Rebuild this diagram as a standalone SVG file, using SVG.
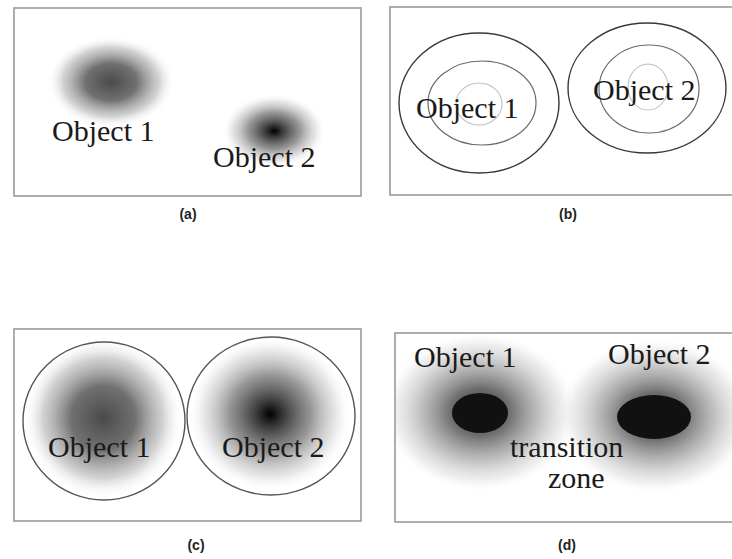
<svg xmlns="http://www.w3.org/2000/svg" width="732" height="559" viewBox="0 0 732 559">
  <style>
    .frame { fill: #ffffff; stroke: #9a9a9a; stroke-width: 1.6; }
    .lbl { font-family: "Liberation Serif", "Times New Roman", serif; font-size: 30px; fill: #1a1a1a; }
    .cap { font-family: "Liberation Sans", Arial, sans-serif; font-size: 14px; font-weight: bold; fill: #222; text-anchor: middle; }
    .ring-out { fill: none; stroke: #3a3a3a; stroke-width: 1.4; }
    .ring-mid { fill: none; stroke: #6a6a6a; stroke-width: 1.2; }
    .ring-in { fill: none; stroke: #c0c0c0; stroke-width: 1.1; }
    .disc { fill: none; stroke: #555; stroke-width: 1.4; }
  </style>
  <defs>
    <radialGradient id="softGray">
      <stop offset="0" stop-color="#4a4a4a" stop-opacity="1"/>
      <stop offset="0.4" stop-color="#606060" stop-opacity="0.9"/>
      <stop offset="0.75" stop-color="#9a9a9a" stop-opacity="0.45"/>
      <stop offset="1" stop-color="#fff" stop-opacity="0"/>
    </radialGradient>
    <radialGradient id="sharpDark">
      <stop offset="0" stop-color="#000" stop-opacity="1"/>
      <stop offset="0.15" stop-color="#2a2a2a" stop-opacity="0.95"/>
      <stop offset="0.5" stop-color="#6a6a6a" stop-opacity="0.7"/>
      <stop offset="0.8" stop-color="#aaa" stop-opacity="0.3"/>
      <stop offset="1" stop-color="#fff" stop-opacity="0"/>
    </radialGradient>
    <radialGradient id="halo">
      <stop offset="0" stop-color="#333" stop-opacity="1"/>
      <stop offset="0.3" stop-color="#555" stop-opacity="0.85"/>
      <stop offset="0.6" stop-color="#8a8a8a" stop-opacity="0.55"/>
      <stop offset="0.85" stop-color="#bbb" stop-opacity="0.25"/>
      <stop offset="1" stop-color="#fff" stop-opacity="0"/>
    </radialGradient>
    <clipPath id="clip-d">
      <rect x="396" y="334" width="340" height="187"/>
    </clipPath>
  </defs>

  <rect width="732" height="559" fill="#ffffff"/>

  <!-- (a) fuzzy objects -->
  <g id="panel-a">
    <rect class="frame" x="14" y="8" width="347" height="188"/>
    <ellipse cx="111" cy="82" rx="64" ry="46" fill="url(#softGray)"/>
    <ellipse cx="274" cy="131" rx="52" ry="37" fill="url(#sharpDark)"/>
    <text class="lbl" x="52" y="141">Object 1</text>
    <text class="lbl" x="213" y="167">Object 2</text>
    <text class="cap" x="188" y="219">(a)</text>
  </g>

  <!-- (b) nested contour rings -->
  <g id="panel-b">
    <rect class="frame" x="390" y="7" width="346" height="188"/>
    <ellipse class="ring-out" cx="479" cy="103" rx="80" ry="70"/>
    <ellipse class="ring-mid" cx="482" cy="103" rx="54" ry="42"/>
    <ellipse class="ring-in" cx="479" cy="104" rx="23" ry="21"/>
    <ellipse class="ring-out" cx="647" cy="88" rx="79" ry="65"/>
    <ellipse class="ring-mid" cx="649" cy="89" rx="50" ry="44"/>
    <ellipse class="ring-in" cx="648" cy="87" rx="20" ry="23"/>
    <text class="lbl" x="416" y="118">Object 1</text>
    <text class="lbl" x="593" y="100">Object 2</text>
    <text class="cap" x="568" y="219">(b)</text>
  </g>

  <!-- (c) bounded fuzzy discs -->
  <g id="panel-c">
    <rect class="frame" x="14" y="329" width="347" height="192"/>
    <ellipse cx="103" cy="418" rx="80" ry="80" fill="url(#softGray)"/>
    <ellipse cx="270" cy="414" rx="82" ry="78" fill="url(#sharpDark)"/>
    <ellipse class="disc" cx="104" cy="421" rx="81" ry="79"/>
    <ellipse class="disc" cx="271" cy="416" rx="84" ry="79"/>
    <text class="lbl" x="48" y="457">Object 1</text>
    <text class="lbl" x="222" y="457">Object 2</text>
    <text class="cap" x="196" y="550">(c)</text>
  </g>

  <!-- (d) crisp cores with a transition zone -->
  <g id="panel-d">
    <rect class="frame" x="395" y="333" width="341" height="189"/>
    <g clip-path="url(#clip-d)">
      <ellipse cx="480" cy="412" rx="98" ry="80" fill="url(#halo)"/>
      <ellipse cx="655" cy="416" rx="98" ry="78" fill="url(#halo)"/>
    </g>
    <ellipse cx="480" cy="413" rx="28" ry="20" fill="#111"/>
    <ellipse cx="654" cy="417" rx="37" ry="22" fill="#111"/>
    <text class="lbl" x="414" y="367">Object 1</text>
    <text class="lbl" x="608" y="364">Object 2</text>
    <text class="lbl" x="510" y="457">transition</text>
    <text class="lbl" x="548" y="488">zone</text>
    <text class="cap" x="567" y="550">(d)</text>
  </g>
</svg>
